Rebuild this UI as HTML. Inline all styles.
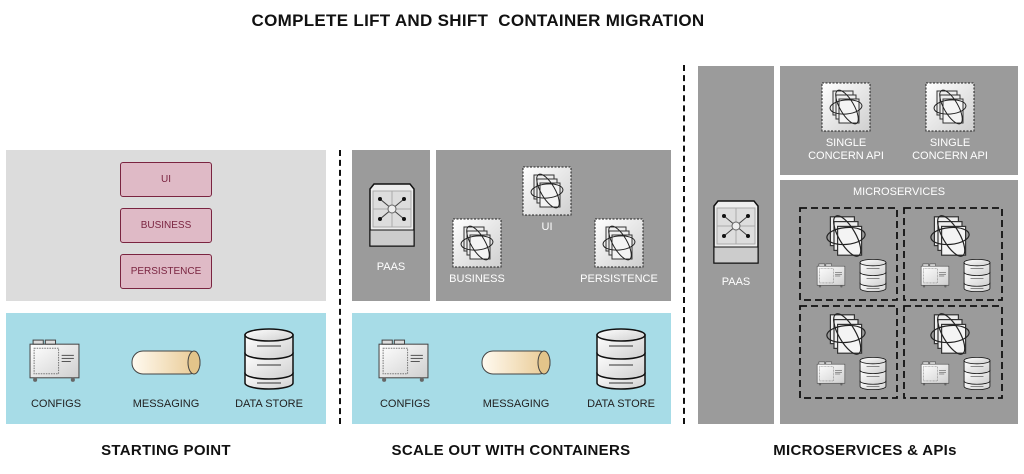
<!DOCTYPE html>
<html><head><meta charset="utf-8"><style>
body{margin:0;width:1024px;height:474px;background:#fff;position:relative;overflow:hidden;font-family:"Liberation Sans",sans-serif}
div,svg{position:absolute}
.g{background:#9b9b9b}
.t{position:absolute;font-size:11px;color:#fff;text-align:center}
.k{color:#222}
.h{font-size:15px;font-weight:bold;letter-spacing:0.3px;color:#111;text-align:center;position:absolute}
.p{background:#dfbac6;border:1.5px solid #7a2440;border-radius:3px;color:#7a2440;font-size:10px;text-align:center;line-height:33px;width:90px;height:33px;left:120px}
</style></head><body>
<svg width="0" height="0" style="position:absolute">
<defs>
<linearGradient id="lg" x1="0" y1="0" x2="1" y2="1"><stop offset="0" stop-color="#fff"/><stop offset="1" stop-color="#cfcfcf"/></linearGradient>
<linearGradient id="tube" x1="0" y1="0" x2="1" y2="0"><stop offset="0" stop-color="#fffaf0"/><stop offset="1" stop-color="#e8c890"/></linearGradient>
<symbol id="ct" viewBox="0 0 50 50">
<rect x="1" y="1" width="48" height="48" fill="url(#lg)" stroke="#222" stroke-dasharray="2,1.5"/>
<rect x="12" y="9" width="20" height="24" fill="#eee" stroke="#333"/>
<rect x="15" y="13" width="20" height="24" fill="#eee" stroke="#333"/>
<rect x="18" y="17" width="20" height="24" fill="#f4f4f4" stroke="#333"/>
<ellipse cx="25" cy="25" rx="16" ry="7" fill="none" stroke="#222" transform="rotate(-5 25 25)"/>
<ellipse cx="26" cy="25" rx="7" ry="19" fill="none" stroke="#222" transform="rotate(-30 26 25)"/>
</symbol>
<symbol id="ms" viewBox="0 0 50 50">
<rect x="12" y="9" width="20" height="24" fill="#eee" stroke="#333"/>
<rect x="15" y="13" width="20" height="24" fill="#eee" stroke="#333"/>
<rect x="18" y="17" width="20" height="24" fill="#f4f4f4" stroke="#333"/>
<ellipse cx="25" cy="25" rx="16" ry="7" fill="none" stroke="#222" transform="rotate(-5 25 25)"/>
<ellipse cx="26" cy="25" rx="7" ry="19" fill="none" stroke="#222" transform="rotate(-30 26 25)"/>
</symbol>
<symbol id="pa" viewBox="0 0 50 65">
<path d="M3 6 L7 1 L43 1 L47 6 L47 63 L3 63Z" fill="#eee" stroke="#111" stroke-width="1.5"/>
<rect x="6" y="8" width="38" height="36" fill="#ddd" stroke="#aaa"/>
<line x1="25" y1="8" x2="25" y2="44" stroke="#aaa"/><line x1="6" y1="26" x2="44" y2="26" stroke="#aaa"/>
<line x1="13" y1="16" x2="37" y2="36" stroke="#444"/><line x1="37" y1="16" x2="13" y2="36" stroke="#444"/>
<circle cx="25" cy="26" r="4" fill="#eee" stroke="#666"/>
<circle cx="13" cy="16" r="2" fill="#111"/><circle cx="37" cy="16" r="2" fill="#111"/><circle cx="13" cy="36" r="2" fill="#111"/><circle cx="37" cy="36" r="2" fill="#111"/>
<line x1="3" y1="47" x2="47" y2="47" stroke="#111"/><rect x="3" y="47" width="44" height="16" fill="#ccc" stroke="#111"/>
</symbol>
<symbol id="cf" viewBox="0 0 52 44">
<rect x="2" y="5" width="48" height="33" fill="url(#lg)" stroke="#444"/>
<rect x="5" y="1" width="10" height="4" fill="#ddd" stroke="#444"/><rect x="17" y="1" width="10" height="4" fill="#ddd" stroke="#444"/>
<rect x="6" y="9" width="24" height="25" fill="none" stroke="#777" stroke-dasharray="1.5,1"/>
<line x1="33" y1="16" x2="45" y2="16" stroke="#555"/><line x1="33" y1="19" x2="45" y2="19" stroke="#555"/><line x1="33" y1="22" x2="42" y2="22" stroke="#555"/>
<circle cx="7" cy="40" r="2" fill="#666"/><circle cx="44" cy="40" r="2" fill="#666"/>
</symbol>
<symbol id="db" viewBox="0 0 52 64">
<g fill="url(#lg)" stroke="#111" stroke-width="1.5">
<path d="M2 46 v10 a24 6 0 0 0 48 0 v-10Z"/><path d="M2 26 v20 a24 6 0 0 0 48 0 v-20Z"/><path d="M2 8 v18 a24 6 0 0 0 48 0 v-18Z"/>
<ellipse cx="26" cy="8" rx="24" ry="6"/></g>
<line x1="14" y1="19" x2="38" y2="19" stroke="#333"/><line x1="14" y1="38" x2="38" y2="38" stroke="#333"/><line x1="14" y1="56" x2="38" y2="56" stroke="#333"/>
</symbol>
</defs></svg>

<div class="h" style="left:0;width:956px;top:11px;font-size:17px">COMPLETE LIFT AND SHIFT&nbsp; CONTAINER MIGRATION</div>

<!-- left -->
<div style="left:6px;top:150px;width:320px;height:151px;background:#dcdcdc"></div>
<div class="p" style="top:162px">UI</div>
<div class="p" style="top:208px">BUSINESS</div>
<div class="p" style="top:254px">PERSISTENCE</div>
<div style="left:6px;top:313px;width:320px;height:111px;background:#a7dce7"></div>
<svg style="left:28px;top:339px" width="53" height="45"><use href="#cf"/></svg>
<svg style="left:131px;top:350px" width="72" height="26"><rect x="1" y="1" width="68" height="23" rx="11" fill="url(#tube)" stroke="#444"/><ellipse cx="63" cy="12.5" rx="6" ry="11.5" fill="#e3c48a" stroke="#444"/></svg>
<svg style="left:243px;top:327px" width="52" height="64"><use href="#db"/></svg>
<div class="t k" style="left:6px;width:100px;top:398px">CONFIGS</div>
<div class="t k" style="left:116px;width:100px;top:398px">MESSAGING</div>
<div class="t k" style="left:219px;width:100px;top:398px">DATA STORE</div>
<div class="h" style="left:66px;width:200px;top:442px">STARTING POINT</div>

<div style="left:339px;top:150px;height:274px;border-left:2px dashed #111"></div>

<!-- middle -->
<div class="g" style="left:352px;top:150px;width:78px;height:151px"></div>
<svg style="left:367px;top:183px" width="50" height="65"><use href="#pa"/></svg>
<div class="t" style="left:352px;width:78px;top:261px">PAAS</div>
<div class="g" style="left:436px;top:150px;width:235px;height:151px"></div>
<svg style="left:522px;top:166px" width="50" height="50"><use href="#ct"/></svg>
<svg style="left:452px;top:218px" width="50" height="50"><use href="#ct"/></svg>
<svg style="left:594px;top:218px" width="50" height="50"><use href="#ct"/></svg>
<div class="t" style="left:497px;width:100px;top:221px">UI</div>
<div class="t" style="left:427px;width:100px;top:273px">BUSINESS</div>
<div class="t" style="left:569px;width:100px;top:273px">PERSISTENCE</div>
<div style="left:352px;top:313px;width:319px;height:111px;background:#a7dce7"></div>
<svg style="left:377px;top:339px" width="53" height="45"><use href="#cf"/></svg>
<svg style="left:481px;top:350px" width="72" height="26"><rect x="1" y="1" width="68" height="23" rx="11" fill="url(#tube)" stroke="#444"/><ellipse cx="63" cy="12.5" rx="6" ry="11.5" fill="#e3c48a" stroke="#444"/></svg>
<svg style="left:595px;top:327px" width="52" height="64"><use href="#db"/></svg>
<div class="t k" style="left:355px;width:100px;top:398px">CONFIGS</div>
<div class="t k" style="left:466px;width:100px;top:398px">MESSAGING</div>
<div class="t k" style="left:571px;width:100px;top:398px">DATA STORE</div>
<div class="h" style="left:361px;width:300px;top:442px">SCALE OUT WITH CONTAINERS</div>

<div style="left:683px;top:65px;height:359px;border-left:2px dashed #111"></div>

<!-- right -->
<div class="g" style="left:698px;top:66px;width:76px;height:358px"></div>
<svg style="left:711px;top:200px" width="50" height="65"><use href="#pa"/></svg>
<div class="t" style="left:698px;width:76px;top:276px">PAAS</div>
<div class="g" style="left:780px;top:66px;width:238px;height:109px"></div>
<svg style="left:821px;top:82px" width="50" height="50"><use href="#ct"/></svg>
<svg style="left:925px;top:82px" width="50" height="50"><use href="#ct"/></svg>
<div class="t" style="left:796px;width:100px;top:137px;line-height:13px">SINGLE<br>CONCERN API</div>
<div class="t" style="left:900px;width:100px;top:137px;line-height:13px">SINGLE<br>CONCERN API</div>
<div class="g" style="left:780px;top:180px;width:238px;height:244px"></div>
<div class="t" style="left:780px;width:238px;top:186px">MICROSERVICES</div>

<svg style="left:796px;top:204px" width="210" height="198">
<g fill="none" stroke="#111" stroke-width="1.8" stroke-dasharray="7,4">
<rect x="4" y="4" width="97" height="92"/><rect x="108" y="4" width="98" height="92"/>
<rect x="4" y="102" width="97" height="92"/><rect x="108" y="102" width="98" height="92"/>
</g></svg>

<svg style="left:816px;top:206px" width="60" height="60"><use href="#ms"/></svg>
<svg style="left:920px;top:206px" width="60" height="60"><use href="#ms"/></svg>
<svg style="left:816px;top:304px" width="60" height="60"><use href="#ms"/></svg>
<svg style="left:920px;top:304px" width="60" height="60"><use href="#ms"/></svg>

<svg style="left:816px;top:263px" width="30" height="26"><use href="#cf"/></svg>
<svg style="left:920px;top:263px" width="30" height="26"><use href="#cf"/></svg>
<svg style="left:816px;top:361px" width="30" height="26"><use href="#cf"/></svg>
<svg style="left:920px;top:361px" width="30" height="26"><use href="#cf"/></svg>
<svg style="left:859px;top:258px" width="28" height="35"><use href="#db"/></svg>
<svg style="left:963px;top:258px" width="28" height="35"><use href="#db"/></svg>
<svg style="left:859px;top:356px" width="28" height="35"><use href="#db"/></svg>
<svg style="left:963px;top:356px" width="28" height="35"><use href="#db"/></svg>

<div class="h" style="left:750px;width:230px;top:442px">MICROSERVICES &amp; APIs</div>
</body></html>
